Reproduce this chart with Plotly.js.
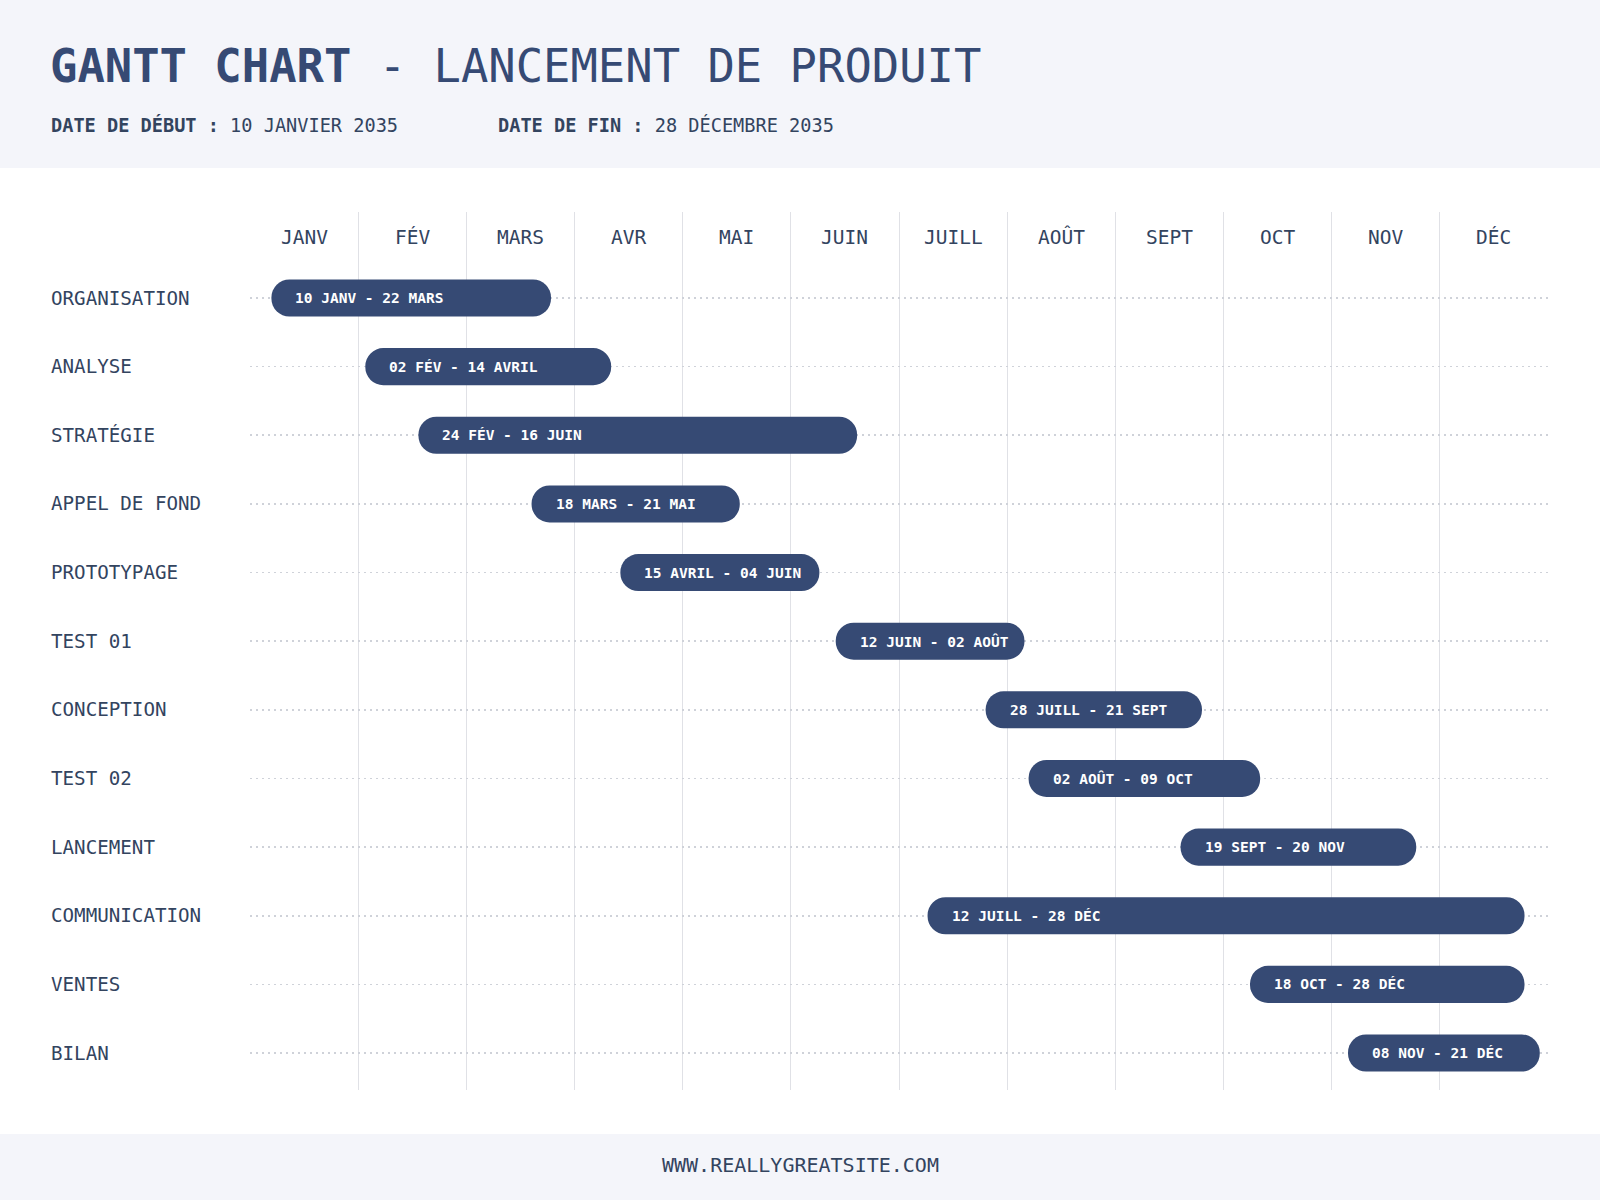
<!DOCTYPE html>
<html>
<head>
<meta charset="utf-8">
<script src="https://cdn.plot.ly/plotly-3.0.1.min.js"></script>
<style>
  html, body { margin: 0; padding: 0; background: #ffffff; }
  #chart { width: 1600px; height: 1200px; }
</style>
</head>
<body>
<div id="chart"></div>
<script>
// ---------- DATA ----------
const tasks = ["ORGANISATION", "ANALYSE", "STRATÉGIE", "APPEL DE FOND", "PROTOTYPAGE", "TEST 01",
               "CONCEPTION", "TEST 02", "LANCEMENT", "COMMUNICATION", "VENTES", "BILAN"];
// bar extents in month units (0 = start of January, 12 = end of December)
const barStart = [0.198, 1.066, 1.557, 2.603, 3.424, 5.415, 6.801, 7.198, 8.603, 6.264, 9.245, 10.151];
const barEnd   = [2.783, 3.339, 5.613, 4.528, 5.264, 7.160, 8.801, 9.339, 10.782, 11.783, 11.783, 11.924];
const barLabels = ["10 JANV - 22 MARS", "02 FÉV - 14 AVRIL", "24 FÉV - 16 JUIN", "18 MARS - 21 MAI",
                   "15 AVRIL - 04 JUIN", "12 JUIN - 02 AOÛT", "28 JUILL - 21 SEPT", "02 AOÛT - 09 OCT",
                   "19 SEPT - 20 NOV", "12 JUILL - 28 DÉC", "18 OCT - 28 DÉC", "08 NOV - 21 DÉC"];
const months = ["JANV", "FÉV", "MARS", "AVR", "MAI", "JUIN", "JUILL", "AOÛT", "SEPT", "OCT", "NOV", "DÉC"];
const titleBold = "GANTT CHART";
const titleRest = " - LANCEMENT DE PRODUIT";
const startLabel = "DATE DE DÉBUT :";
const startValue = "10 JANVIER 2035";
const endLabel = "DATE DE FIN :";
const endValue = "28 DÉCEMBRE 2035";
const footerText = "WWW.REALLYGREATSITE.COM";

// ---------- STYLE / LAYOUT ----------
const FONT = "DejaVu Sans Mono, Liberation Mono, monospace";
const NAVY = "#364a74";
const TEXT = "#33445f";
const W = 1600, H = 1200;
const M = { l: 250, r: 52, t: 212, b: 110 };
const PW = W - M.l - M.r, PH = H - M.t - M.b;
const px = x => (x - M.l) / PW;           // pixel x -> paper x
const py = y => (H - M.b - y) / PH;       // pixel y -> paper y

const durations = barStart.map((s, i) => barEnd[i] - s);

const traces = [{
  type: "bar", orientation: "h", y: tasks, base: barStart, x: durations, width: 0.54,
  marker: { color: NAVY, cornerradius: "50%", opacity: 1, line: { width: 0 } },
  hoverinfo: "skip", showlegend: false
}];

const annotations = [];
// title
annotations.push({
  xref: "paper", yref: "paper", x: px(48), y: py(66), xanchor: "left", yanchor: "middle",
  text: "<b>" + titleBold + "</b>" + titleRest, showarrow: false,
  font: { family: FONT, size: 45.5, color: NAVY }
});
annotations.push({
  xref: "paper", yref: "paper", x: px(49), y: py(125), xanchor: "left", yanchor: "middle",
  text: "<b>" + startLabel + "</b> " + startValue, showarrow: false,
  font: { family: FONT, size: 18.6, color: TEXT }
});
annotations.push({
  xref: "paper", yref: "paper", x: px(496), y: py(125), xanchor: "left", yanchor: "middle",
  text: "<b>" + endLabel + "</b> " + endValue, showarrow: false,
  font: { family: FONT, size: 18.6, color: TEXT }
});
// footer
annotations.push({
  xref: "paper", yref: "paper", x: px(800), y: py(1165), xanchor: "center", yanchor: "middle",
  text: footerText, showarrow: false,
  font: { family: FONT, size: 20, color: TEXT }
});
// month labels
months.forEach((m, i) => annotations.push({
  xref: "x", yref: "paper", x: i + 0.5, y: py(237), xanchor: "center", yanchor: "middle",
  text: m, showarrow: false, font: { family: FONT, size: 19.5, color: TEXT }
}));
// task labels
tasks.forEach(t => annotations.push({
  xref: "paper", yref: "y", x: px(49), y: t, xanchor: "left", yanchor: "middle",
  text: t, showarrow: false, font: { family: FONT, size: 19.2, color: TEXT }
}));
// bar labels
tasks.forEach((t, i) => annotations.push({
  xref: "x", yref: "y", x: barStart[i], y: t, xanchor: "left", yanchor: "middle", xshift: 22,
  text: "<b>" + barLabels[i] + "</b>", showarrow: false,
  font: { family: FONT, size: 14.5, color: "#ffffff" }
}));

const shapes = [
  { type: "rect", xref: "paper", yref: "paper", x0: px(0), x1: px(W), y0: py(168), y1: py(0),
    fillcolor: "#f4f5fa", line: { width: 0 }, layer: "below" },
  { type: "rect", xref: "paper", yref: "paper", x0: px(0), x1: px(W), y0: py(H), y1: py(1134),
    fillcolor: "#f4f5fa", line: { width: 0 }, layer: "below" }
];

const layout = {
  width: W, height: H,
  margin: M,
  paper_bgcolor: "#ffffff", plot_bgcolor: "#ffffff",
  barmode: "overlay",
  showlegend: false,
  xaxis: {
    range: [0, 12], tickvals: [1, 2, 3, 4, 5, 6, 7, 8, 9, 10, 11], showticklabels: false,
    ticks: "", showgrid: true, gridcolor: "#e0e1e6", gridwidth: 1, zeroline: false, showline: false,
    fixedrange: true
  },
  yaxis: {
    type: "category", categoryarray: tasks, categoryorder: "array",
    range: [11.539, -1.253], showticklabels: false, ticks: "",
    showgrid: true, gridcolor: "#cfd2d9", gridwidth: 1.6, griddash: "2px,4px",
    zeroline: false, showline: false, fixedrange: true
  },
  annotations: annotations,
  shapes: shapes
};

Plotly.newPlot("chart", traces, layout, { staticPlot: true, displayModeBar: false });
</script>
</body>
</html>
